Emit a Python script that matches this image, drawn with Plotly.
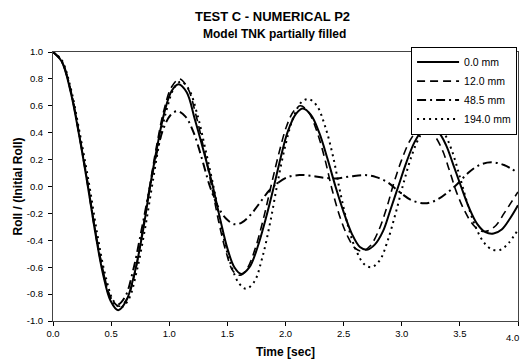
import plotly.graph_objects as go

# ---------------- data ----------------
t_solid = [0.00, 0.075, 0.15, 0.225, 0.30, 0.365, 0.43, 0.495, 0.56,
           0.63, 0.70, 0.77, 0.835, 0.895, 0.955, 1.02, 1.08,
           1.15, 1.22, 1.30, 1.375, 1.44, 1.50, 1.56, 1.62,
           1.69, 1.76, 1.83, 1.90, 1.96, 2.02, 2.09, 2.15,
           2.22, 2.29, 2.36, 2.43, 2.50, 2.57, 2.64, 2.70,
           2.77, 2.84, 2.90, 2.97, 3.04, 3.11, 3.18, 3.24,
           3.31, 3.38, 3.44, 3.51, 3.58, 3.65, 3.72, 3.79,
           3.86, 3.93, 4.00]
y_solid = [1.00, 0.93, 0.71, 0.38, 0.00, -0.35, -0.65, -0.85, -0.92,
           -0.85, -0.65, -0.35, 0.00, 0.29, 0.54, 0.71, 0.76,
           0.70, 0.50, 0.25, 0.00, -0.25, -0.46, -0.60, -0.65,
           -0.60, -0.45, -0.24, 0.00, 0.22, 0.41, 0.54, 0.58,
           0.53, 0.40, 0.21, 0.00, -0.19, -0.35, -0.45, -0.47,
           -0.43, -0.33, -0.18, 0.00, 0.18, 0.33, 0.42, 0.44,
           0.41, 0.31, 0.17, 0.00, -0.16, -0.28, -0.34, -0.35,
           -0.32, -0.24, -0.14]

t_dash = [0.00, 0.075, 0.15, 0.225, 0.30, 0.365, 0.43, 0.50, 0.57,
          0.64, 0.71, 0.775, 0.835, 0.895, 0.955, 1.02, 1.09,
          1.16, 1.23, 1.30, 1.37, 1.43, 1.49, 1.55, 1.61,
          1.67, 1.74, 1.81, 1.88, 1.95, 2.01, 2.07, 2.13,
          2.20, 2.27, 2.34, 2.40, 2.47, 2.54, 2.60, 2.66,
          2.73, 2.80, 2.87, 2.93, 3.00, 3.07, 3.14, 3.21,
          3.28, 3.35, 3.41, 3.47, 3.54, 3.61, 3.68, 3.74,
          3.81, 3.88, 3.94, 4.00]
y_dash = [1.00, 0.93, 0.72, 0.39, 0.02, -0.33, -0.62, -0.83, -0.89,
          -0.83, -0.62, -0.30, 0.02, 0.32, 0.57, 0.74, 0.80,
          0.73, 0.53, 0.27, -0.02, -0.28, -0.49, -0.63, -0.66,
          -0.61, -0.46, -0.24, 0.02, 0.27, 0.45, 0.56, 0.60,
          0.55, 0.41, 0.20, -0.02, -0.23, -0.38, -0.46, -0.48,
          -0.44, -0.33, -0.16, 0.02, 0.20, 0.34, 0.42, 0.43,
          0.38, 0.27, 0.12, -0.04, -0.18, -0.28, -0.33, -0.33,
          -0.29, -0.20, -0.12, -0.04]

t_dashdot = [0.00, 0.075, 0.15, 0.225, 0.30, 0.365, 0.43, 0.49, 0.55,
             0.62, 0.69, 0.76, 0.83, 0.89, 0.95, 1.01, 1.07,
             1.14, 1.21, 1.28, 1.35, 1.42, 1.49, 1.56, 1.62,
             1.70, 1.78, 1.86, 1.94, 2.02, 2.12, 2.22, 2.33,
             2.44, 2.56, 2.68, 2.78, 2.88, 2.98, 3.08, 3.20,
             3.30, 3.40, 3.48, 3.57, 3.67, 3.77, 3.88, 4.00]
y_dashdot = [1.00, 0.93, 0.72, 0.39, 0.01, -0.34, -0.63, -0.82, -0.88,
             -0.82, -0.62, -0.33, -0.02, 0.24, 0.43, 0.53, 0.56,
             0.52, 0.40, 0.21, 0.00, -0.15, -0.24, -0.28, -0.27,
             -0.21, -0.12, -0.03, 0.03, 0.07, 0.085, 0.08, 0.065,
             0.06, 0.075, 0.085, 0.07, 0.03, -0.04, -0.10, -0.125,
             -0.10, -0.04, 0.02, 0.10, 0.16, 0.18, 0.16, 0.10]

t_dot = [0.00, 0.075, 0.15, 0.225, 0.31, 0.38, 0.45, 0.52, 0.58,
         0.65, 0.72, 0.79, 0.855, 0.92, 0.98, 1.04, 1.10,
         1.17, 1.24, 1.31, 1.39, 1.46, 1.53, 1.60, 1.66,
         1.73, 1.80, 1.87, 1.93, 2.00, 2.07, 2.14, 2.20,
         2.27, 2.34, 2.41, 2.47, 2.54, 2.61, 2.68, 2.74,
         2.81, 2.88, 2.95, 3.02, 3.09, 3.16, 3.23, 3.29,
         3.36, 3.43, 3.50, 3.57, 3.64, 3.71, 3.78, 3.85,
         3.92, 4.00]
y_dot = [1.00, 0.94, 0.74, 0.42, 0.02, -0.35, -0.66, -0.85, -0.90,
         -0.84, -0.63, -0.32, 0.02, 0.35, 0.58, 0.73, 0.78,
         0.72, 0.54, 0.28, -0.04, -0.35, -0.58, -0.72, -0.76,
         -0.71, -0.53, -0.26, 0.02, 0.31, 0.52, 0.63, 0.65,
         0.60, 0.45, 0.22, -0.04, -0.30, -0.48, -0.58, -0.60,
         -0.55, -0.40, -0.19, 0.04, 0.24, 0.38, 0.45, 0.45,
         0.40, 0.27, 0.07, -0.14, -0.31, -0.42, -0.47, -0.47,
         -0.42, -0.32]

names = ["0.0 mm", "12.0 mm", "48.5 mm", "194.0 mm"]
x_ticks = [0.0, 0.5, 1.0, 1.5, 2.0, 2.5, 3.0, 3.5, 4.0]
y_ticks = [-1.0, -0.8, -0.6, -0.4, -0.2, 0.0, 0.2, 0.4, 0.6, 0.8, 1.0]

# ---------------- figure ----------------
FONT = "Liberation Sans, Arial, sans-serif"
fig = go.Figure()
series = [
    (t_solid, y_solid, dict(color="black", width=2, dash="solid")),
    (t_dash, y_dash, dict(color="black", width=1.6, dash="8px,5px")),
    (t_dashdot, y_dashdot, dict(color="black", width=2, dash="9px,4px,2px,4px")),
    (t_dot, y_dot, dict(color="black", width=2, dash="2px,4px")),
]
for (tx, ty, ln), nm in zip(series, names):
    fig.add_trace(go.Scatter(x=tx, y=ty, name=nm, mode="lines",
                             line=dict(shape="spline", smoothing=1.0, **ln)))

fig.update_layout(
    width=522, height=364,
    margin=dict(l=53, r=4, t=52, b=43),
    paper_bgcolor="white", plot_bgcolor="white",
    font=dict(family=FONT, size=9.5, color="black"),
    showlegend=True,
    legend=dict(x=0.998, y=1.02, xanchor="right", yanchor="top",
                bgcolor="white", bordercolor="black", borderwidth=1,
                font=dict(size=10.5), tracegroupgap=0, itemwidth=42),
)
# the last x label is drawn separately, pulled in so it stays on the page
fig.update_xaxes(range=[0, 4], tickvals=x_ticks,
                 ticktext=[f"{v:.1f}" for v in x_ticks[:-1]] + [""],
                 ticks="outside", ticklen=4, tickcolor="black",
                 showline=True, linecolor="#444", linewidth=1, mirror=True,
                 showgrid=False, zeroline=False,
                 title=dict(text="<b>Time [sec]</b>", font=dict(size=12), standoff=9))
fig.update_yaxes(range=[-1, 1], tickvals=y_ticks,
                 ticktext=[f"{v:.1f}" for v in y_ticks],
                 ticks="outside", ticklen=4, tickcolor="black",
                 showline=True, linecolor="#444", linewidth=1, mirror=True,
                 showgrid=False, zeroline=False, ticklabelstandoff=3,
                 title=dict(text="<b>Roll / (Initial Roll)</b>", font=dict(size=12), standoff=1))

fig.add_annotation(text=f"{x_ticks[-1]:.1f}", xref="x", yref="paper",
                   x=x_ticks[-1], y=0, yshift=-16, xshift=3, showarrow=False,
                   font=dict(size=9.5), xanchor="right", yanchor="middle")
fig.add_annotation(text="<b>TEST C - NUMERICAL P2</b>", xref="paper", yref="paper",
                   x=0.471, y=1.131, showarrow=False, font=dict(size=13),
                   xanchor="center", yanchor="middle")
fig.add_annotation(text="<b>Model TNK partially filled</b>", xref="paper", yref="paper",
                   x=0.477, y=1.068, showarrow=False, font=dict(size=12),
                   xanchor="center", yanchor="middle")

fig.write_html("out.html")
